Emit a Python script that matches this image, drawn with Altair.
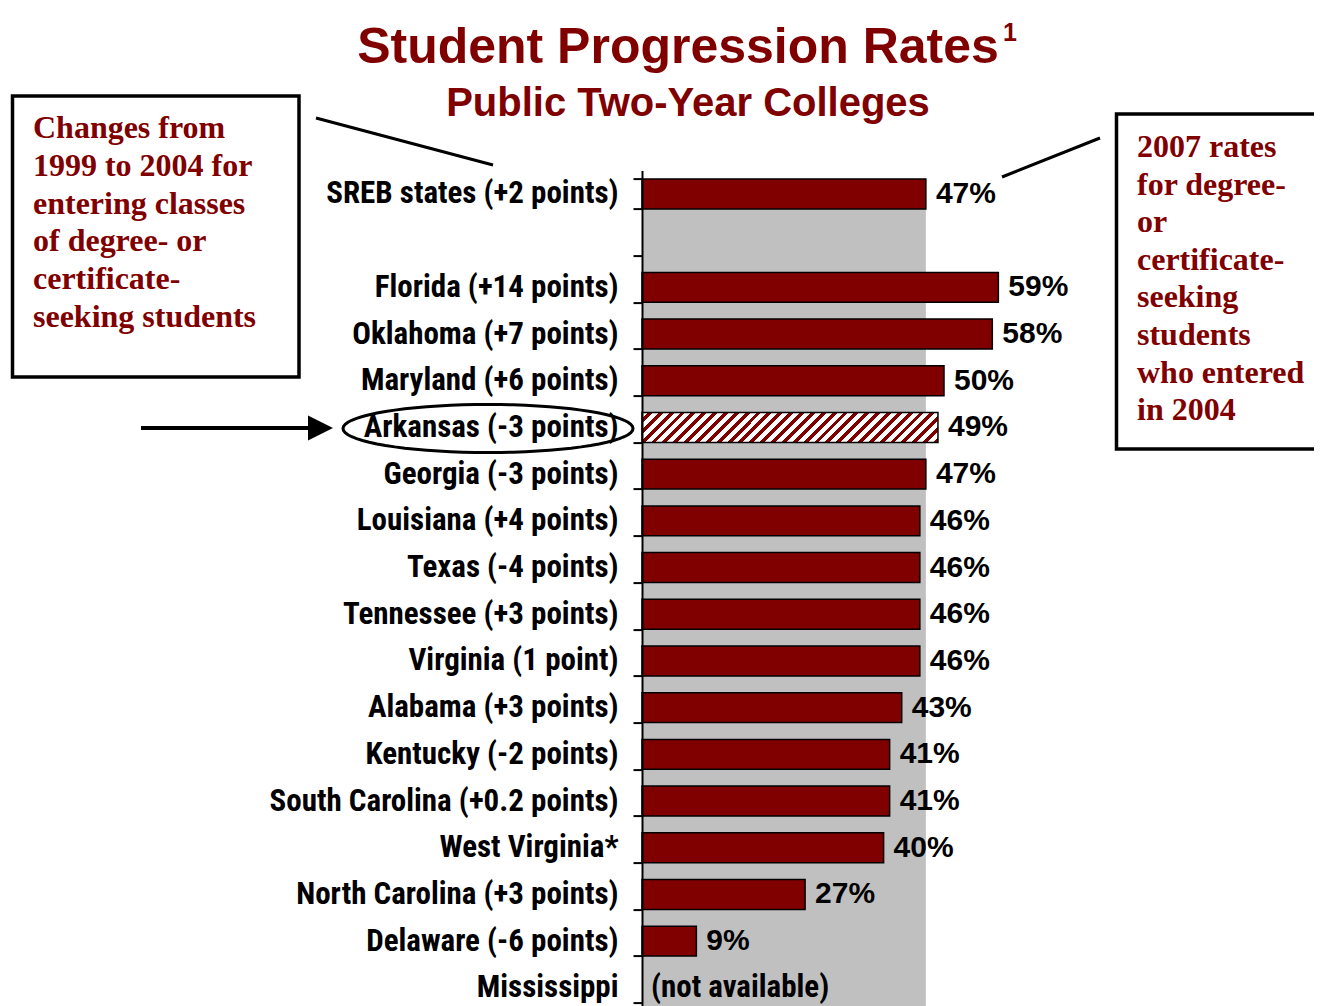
import math
import altair as alt
import pandas as pd

# ---------------- data ----------------
categories = [
    "SREB states (+2 points)", " ", "Florida (+14 points)", "Oklahoma (+7 points)",
    "Maryland (+6 points)", "Arkansas (-3 points)", "Georgia (-3 points)",
    "Louisiana (+4 points)", "Texas (-4 points)", "Tennessee (+3 points)",
    "Virginia (1 point)", "Alabama (+3 points)", "Kentucky (-2 points)",
    "South Carolina (+0.2 points)", "West Virginia*", "North Carolina (+3 points)",
    "Delaware (-6 points)", "Mississippi",
]
values = [47, None, 59, 58, 50, 49, 47, 46, 46, 46, 46, 43, 41, 41, 40, 27, 9, None]
highlight = "Arkansas (-3 points)"
not_available = "Mississippi"
not_available_text = "(not available)"
sreb_average = 47

title_text = "Student Progression Rates"
title_note = "1"
subtitle_text = "Public Two-Year Colleges"
left_box_lines = ["Changes from", "1999 to 2004 for", "entering classes",
                  "of degree- or", "certificate-", "seeking students"]
right_box_lines = ["2007 rates", "for degree-", "or", "certificate-", "seeking",
                   "students", "who entered", "in 2004"]

# ---------------- styles ----------------
MAROON = "#800000"
GREY = "#c0c0c0"
SANS = "Liberation Sans"
NARROW = "Liberation Sans Narrow, Roboto Condensed, Liberation Sans"
SERIF = "Liberation Serif"

OX, OY = 642, 170.6          # page position of plot origin
PW, PH = 362.4, 836          # plot area size
RANGE_H = 840.6              # full band range (bottom row runs to the page edge)


def px(x):
    return x - OX


def py(y):
    return y - OY


df = pd.DataFrame({"state": categories, "rate": values})
df["label"] = df["rate"].map(lambda v: f"{int(v)}%" if pd.notna(v) else "")

one = pd.DataFrame({"k": [0]})
band = pd.DataFrame({"lo": [0], "hi": [sreb_average]})

xscale = alt.Scale(domain=[0, 60])
yscale = alt.Scale(domain=categories, range=[0, RANGE_H], paddingInner=0.36, paddingOuter=0.18)
yaxis = alt.Axis(
    title=None, domainColor="black", domainWidth=2, tickColor="black", tickWidth=2,
    tickSize=9, tickBand="extent", labelFont=NARROW, labelFontSize=31,
    labelFontWeight="bold", labelColor="black", labelPadding=15, labelLimit=500,
    zindex=2,
)

Y = alt.Y("state:N", scale=yscale, axis=yaxis, title=None)
X = alt.X("rate:Q", scale=xscale, axis=None)

# grey band: SREB average
grey = alt.Chart(band).mark_rect(color=GREY).encode(
    x=alt.X("lo:Q", scale=xscale, axis=None), x2="hi:Q",
    y=alt.value(8.4), y2=alt.value(RANGE_H + 10),
)

bars = alt.Chart(df).mark_bar(color=MAROON, stroke="black", strokeWidth=1.5).encode(
    x=X, y=Y
).transform_filter(f"isValid(datum.rate) && datum.state != '{highlight}'")

# hatched bar via hard-stop linear gradient
N = 30
stops = []
for i in range(N):
    a = i / N
    m = (i + 0.55) / N
    b = (i + 1) / N
    stops += [
        alt.GradientStop(offset=a, color="#ffffff"),
        alt.GradientStop(offset=m, color="#ffffff"),
        alt.GradientStop(offset=m, color=MAROON),
        alt.GradientStop(offset=b, color=MAROON),
    ]
hatch = alt.LinearGradient(gradient="linear", stops=stops, x1=0, y1=0, x2=1.09, y2=0.11)
hatched = alt.Chart(df).mark_bar(color=hatch, stroke="black", strokeWidth=1.5).encode(
    x=X, y=Y
).transform_filter(f"datum.state == '{highlight}'")

labels = alt.Chart(df).mark_text(
    align="left", baseline="middle", dx=10, font=SANS, fontWeight="bold",
    fontSize=30, color="black",
).encode(x=X, y=Y, text="label:N").transform_filter("isValid(datum.rate)")

na_text = alt.Chart(df).mark_text(
    align="left", baseline="middle", dx=9, font=NARROW, fontWeight="bold",
    fontSize=31, color="black", text=not_available_text,
).encode(x=alt.value(0), y=Y).transform_filter(f"datum.state == '{not_available}'")

# titles
title = alt.Chart(one).mark_text(
    align="center", baseline="alphabetic", font=SANS, fontWeight="bold",
    fontSize=50, color=MAROON, text=title_text,
).encode(x=alt.value(px(678)), y=alt.value(py(63)))
title_sup = alt.Chart(one).mark_text(
    align="left", baseline="alphabetic", font=SANS, fontWeight="bold",
    fontSize=25, color=MAROON, text=title_note,
).encode(x=alt.value(px(1003)), y=alt.value(py(41)))
subtitle = alt.Chart(one).mark_text(
    align="center", baseline="alphabetic", font=SANS, fontWeight="bold",
    fontSize=40, color=MAROON, text=subtitle_text,
).encode(x=alt.value(px(688)), y=alt.value(py(116)))

# annotation boxes
left_box = alt.Chart(one).mark_rect(fill="white", stroke="black", strokeWidth=3.5).encode(
    x=alt.value(px(12.5)), x2=alt.value(px(299)), y=alt.value(py(96)), y2=alt.value(py(377))
)
left_text = alt.Chart(one).mark_text(
    align="left", baseline="middle", font=SERIF, fontWeight="bold", fontSize=32,
    color=MAROON, lineHeight=37.8, text=left_box_lines,
).encode(x=alt.value(px(33)), y=alt.value(py(128)))

right_box = alt.Chart(one).mark_rect(fill="white", stroke="black", strokeWidth=3.5).encode(
    x=alt.value(px(1116.5)), x2=alt.value(px(1345)), y=alt.value(py(114)), y2=alt.value(py(449))
)
right_text = alt.Chart(one).mark_text(
    align="left", baseline="middle", font=SERIF, fontWeight="bold", fontSize=32,
    color=MAROON, lineHeight=37.6, text=right_box_lines,
).encode(x=alt.value(px(1137)), y=alt.value(py(147)))

line_left = alt.Chart(one).mark_rule(color="black", strokeWidth=3).encode(
    x=alt.value(px(316)), y=alt.value(py(118)), x2=alt.value(px(493)), y2=alt.value(py(165))
)
line_right = alt.Chart(one).mark_rule(color="black", strokeWidth=3).encode(
    x=alt.value(px(1002)), y=alt.value(py(177)), x2=alt.value(px(1100)), y2=alt.value(py(138))
)

# ellipse outline (unit-space polygon) around highlighted label, and arrow
ell_ratio = 48 / 290
ell_pts = []
for k in range(73):
    t = 2 * math.pi * k / 72
    ell_pts.append(f"{math.cos(t):.4f},{ell_ratio * math.sin(t):.4f}")
ell_path = "M" + "L".join(ell_pts) + "Z"

ellipse = alt.Chart(one).mark_point(
    shape=ell_path, size=290 * 290,
    filled=False, stroke="black", strokeWidth=3, opacity=1,
).encode(x=alt.value(px(488)), y=alt.value(py(428.5)))

arrow_line = alt.Chart(one).mark_rule(color="black", strokeWidth=4).encode(
    x=alt.value(px(141)), x2=alt.value(px(315)), y=alt.value(py(428)), y2=alt.value(py(428))
)
arrow_head = alt.Chart(one).mark_point(
    shape="M-1,-1L1,0L-1,1Z", size=25 * 25, filled=True, color="black", opacity=1,
).encode(x=alt.value(px(320.5)), y=alt.value(py(428)))

chart = alt.layer(
    grey, bars, hatched, labels, na_text,
    title, title_sup, subtitle,
    line_left, line_right, left_box, left_text, right_box, right_text,
    ellipse, arrow_line, arrow_head,
).properties(
    width=PW, height=PH, autosize="none",
    padding={"left": OX - 8, "top": OY - 8, "right": 1306 - (OX - 8) - PW, "bottom": 0},
).configure_view(stroke=None)

chart.save("out.html", embed_options={"renderer": "svg", "actions": False})
